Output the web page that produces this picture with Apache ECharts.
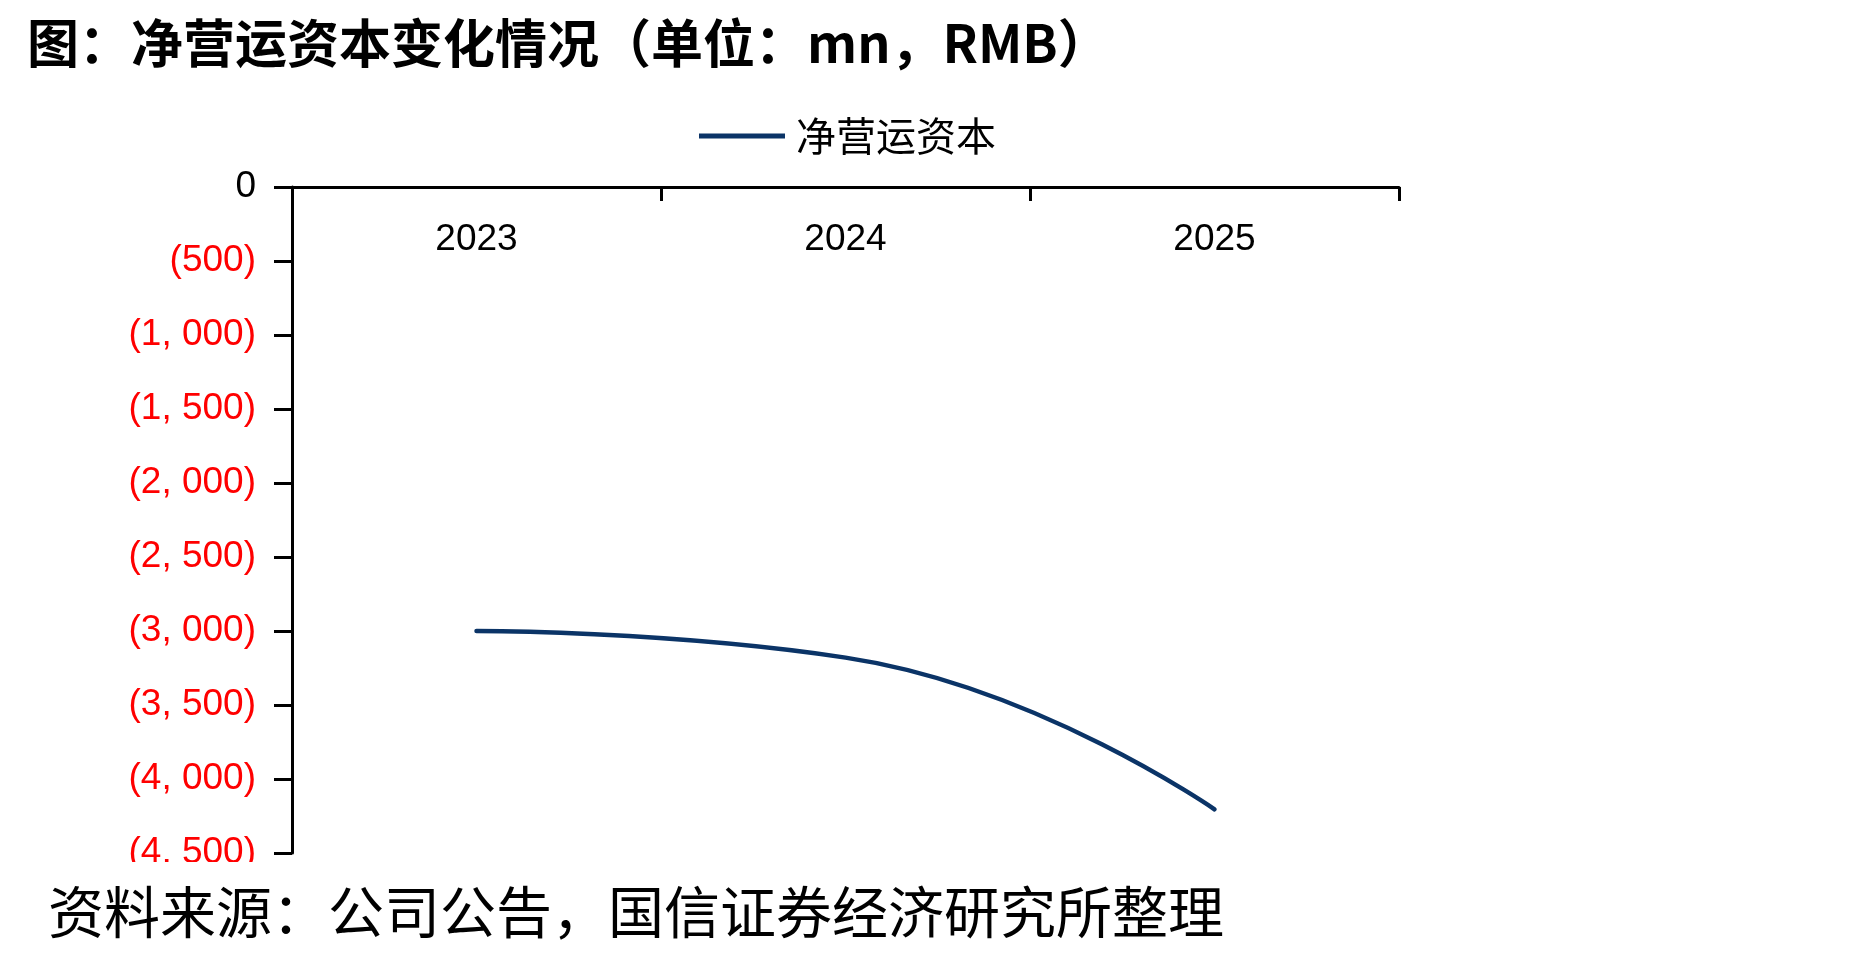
<!DOCTYPE html>
<html>
<head>
<meta charset="utf-8">
<script src="https://cdn.jsdelivr.net/npm/echarts@6/dist/echarts.min.js"></script>
<style>
  html, body { margin: 0; padding: 0; background: #fff; }
  #chart { width: 1853px; height: 953px; }
</style>
</head>
<body>
<div id="chart"></div>
<script>
// 年份与净营运资本（mn, RMB）
const years = ['2023', '2024', '2025'];
const netWorkingCapital = [-3000, -3180, -4205];
const yTicks = [0, -500, -1000, -1500, -2000, -2500, -3000, -3500, -4000, -4500];

const chart = echarts.init(document.getElementById('chart'));

// 负数用括号表示，千分位
const fmt = (v) => {
  if (v === 0) return '0';
  const s = Math.abs(v).toString().replace(/\B(?=(\d{3})+(?!\d))/g, ', ');
  return '(' + s + ')';
};

const option = {
  backgroundColor: '#fff',
  animation: false,
  title: {
    text: '图：净营运资本变化情况（单位：mn，RMB）',
    left: 22,
    top: 12,
    textStyle: {
      fontFamily: 'Noto Sans CJK SC',
      fontSize: 52,
      fontWeight: 'bold',
      color: '#000'
    }
  },
  legend: {
    data: ['净营运资本'],
    left: 694,
    top: 111,
    icon: 'rect',
    itemWidth: 86,
    itemHeight: 5,
    itemGap: 10,
    textStyle: {
      fontFamily: 'Noto Sans CJK SC',
      fontSize: 40,
      color: '#000',
      padding: [0, 0, 0, 6]
    }
  },
  grid: {
    left: 292,
    right: 454,
    top: 187,
    bottom: 100,
    containLabel: false
  },
  xAxis: {
    type: 'category',
    position: 'top',
    data: years,
    boundaryGap: true,
    axisLine: { onZero: false, lineStyle: { color: '#000', width: 3 } },
    axisTick: { show: true, inside: true, length: 14, lineStyle: { color: '#000', width: 3 } },
    axisLabel: {
      inside: true,
      margin: 34,
      fontFamily: 'Liberation Sans',
      fontSize: 37,
      color: '#000'
    },
    splitLine: { show: false }
  },
  yAxis: {
    type: 'value',
    min: yTicks[yTicks.length - 1],
    max: yTicks[0],
    interval: 500,
    axisLine: { show: true, lineStyle: { color: '#000', width: 3 } },
    axisTick: { show: true, length: 18, lineStyle: { color: '#000', width: 3 } },
    axisLabel: {
      margin: 36,
      fontFamily: 'Liberation Sans',
      fontSize: 37,
      formatter: fmt,
      color: (v) => (Number(v) < 0 ? '#ff0000' : '#000')
    },
    splitLine: { show: false }
  },
  series: [
    {
      name: '净营运资本',
      type: 'line',
      data: netWorkingCapital,
      smooth: 0.5,
      symbol: 'none',
      itemStyle: { color: '#0b3467' },
      lineStyle: { color: '#0b3467', width: 4.5, cap: 'round' }
    }
  ],
  graphic: [
    {
      type: 'rect',
      z: 100,
      shape: { x: 0, y: 862, width: 1853, height: 91 },
      style: { fill: '#fff' }
    },
    {
      type: 'text',
      z: 101,
      left: 48,
      top: 884,
      style: {
        text: '资料来源：公司公告，国信证券经济研究所整理',
        font: '56px "Noto Sans CJK SC"',
        fill: '#000'
      }
    }
  ]
};

chart.setOption(option);
window.addEventListener('resize', () => chart.resize());
</script>
</body>
</html>
